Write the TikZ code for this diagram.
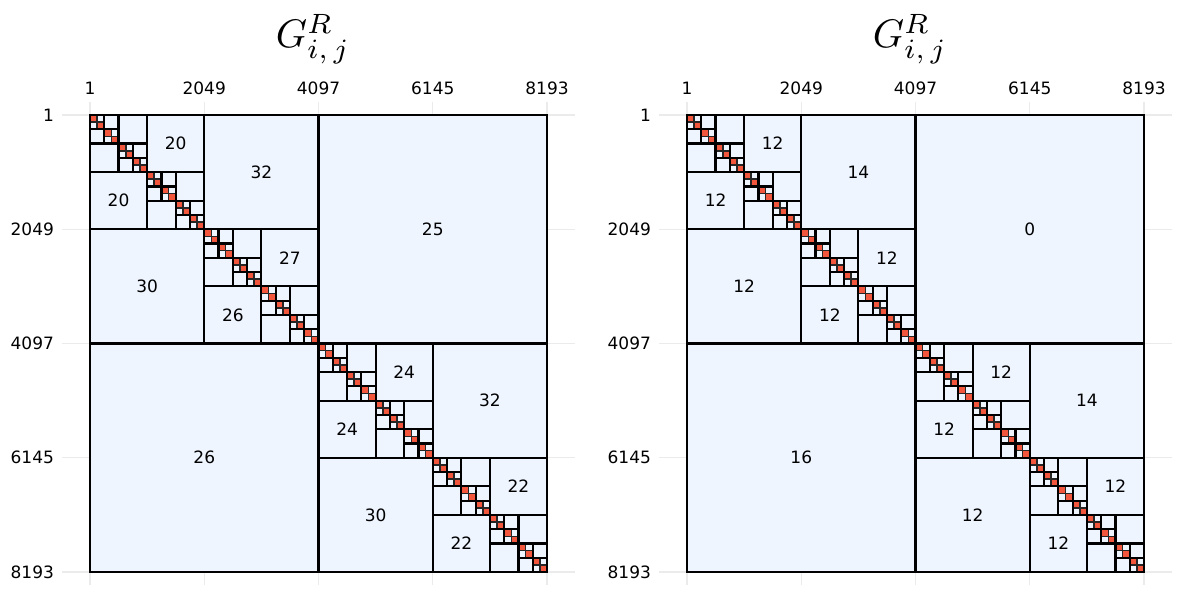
\documentclass[tikz,border=0pt]{standalone}
\usepackage{fontspec}
\setmainfont{DejaVu Sans}
\definecolor{blatt}{RGB}{238,245,255}
\definecolor{dicht}{RGB}{242,86,60}
\definecolor{gitter}{RGB}{235,235,235}
\tikzset{
  blk/.style={draw=black,line width=1.1bp},
  klein/.style={draw=black!85,line width=0.8bp},
  gitl/.style={gitter,line width=0.6bp},
  zahl/.style={font=\fontsize{8.5bp}{10bp}\selectfont,inner sep=0pt},
  titel/.style={inner sep=0pt},
}
% H-Matrix: 64x64 Einheiten, je 128 Zeilen
\newcommand\hmat[1]{%
  \foreach \k in {0,16,...,64} {
    \draw[gitl] (-3.92,\k) -- (67.92,\k);
    \draw[gitl] (\k,-1.82) -- (\k,65.82);
  }
  \fill[blatt] (0,0) rectangle (64,64);
  \foreach \i in {0,...,63} \fill[dicht] (\i,\i) rectangle ++(1,1);
  % Raender der Bloecke
  \foreach \i in {0,...,31} {
    \draw[klein] (2*\i,2*\i) rectangle ++(2,2);
    \draw[klein] (2*\i+1,2*\i) -- ++(0,2) (2*\i,2*\i+1) -- ++(2,0);
  }
  \foreach \b in {32,16,8,4,2} {
    \pgfmathtruncatemacro\n{32/\b-1}
    \foreach \i in {0,...,\n}
      \draw[blk] (2*\i*\b+\b,2*\i*\b) rectangle ++(\b,\b)
                 (2*\i*\b,2*\i*\b+\b) rectangle ++(\b,\b);
  }
  \draw[blk] (0,0) rectangle (64,64);
  \foreach \t [count=\k from 0] in {1,2049,4097,6145,8193} {
    \node[zahl,anchor=base] (#1x\k) at (16*\k,-2.94) {\t};
    \node[zahl,anchor=east] (#1y\k) at (-5.0,16*\k) {\t};
  }
}
\newcommand\gtitel{\scalebox{2}{$G^{R}_{i,\,j}$}}

\begin{document}
\begin{tikzpicture}[x=0.5bp,y=-0.5bp]
  \useasboundingbox (0,0) rectangle (1180,590);
  \node[titel,anchor=base] (titelL) at (313,48) {\gtitel};
  \node[titel,anchor=base] (titelR) at (910,48) {\gtitel};
  % links
  \begin{scope}[shift={(90,115)},x=3.5703bp,y=-3.5703bp]
    \hmat{L}
    \foreach \x/\y/\t in {48/16/25,16/48/26,24/8/32,8/24/30,56/40/32,40/56/30,
        12/4/20,4/12/20,28/20/27,20/28/26,44/36/24,36/44/24,60/52/22,52/60/22}
      \node[zahl] (L-\x-\y) at (\x,\y) {\t};
  \end{scope}
  % rechts
  \begin{scope}[shift={(687,115)},x=3.5703bp,y=-3.5703bp]
    \hmat{R}
    \foreach \x/\y/\t in {48/16/0,16/48/16,24/8/14,8/24/12,56/40/14,40/56/12,
        12/4/12,4/12/12,28/20/12,20/28/12,44/36/12,36/44/12,60/52/12,52/60/12}
      \node[zahl] (R-\x-\y) at (\x,\y) {\t};
  \end{scope}
\end{tikzpicture}
\end{document}
